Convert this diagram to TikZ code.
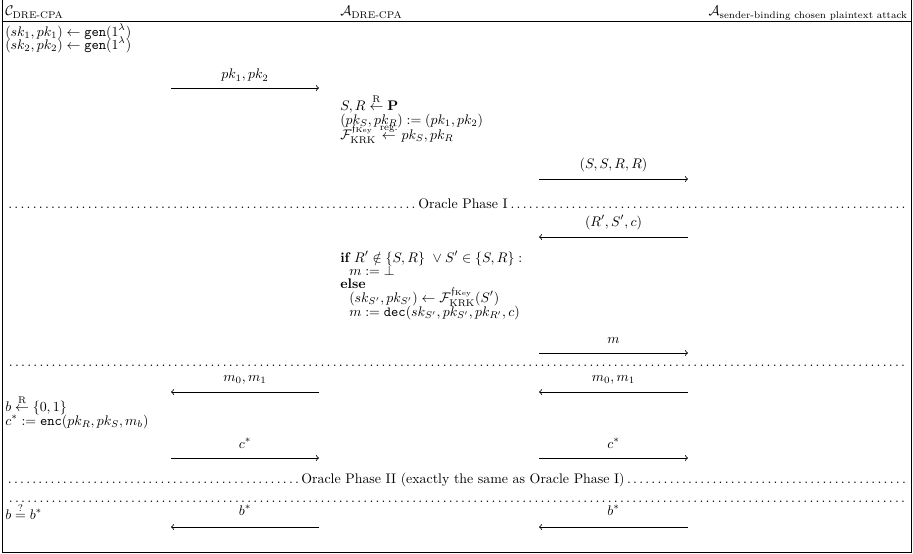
\documentclass[tikz,border=0pt]{standalone}
\usepackage{amsmath,amssymb}
\newcommand\mydfill[1]{\leavevmode\cleaders\hbox to .44em{\hss.\hss}\hskip 0pt plus #1fil\kern0pt}
\begin{document}
\begin{tikzpicture}[x=0.72pt,y=-0.72pt,
  txt/.style={inner sep=0pt,anchor=base west},
  txtr/.style={inner sep=0pt,anchor=base east},
  lbl/.style={inner sep=0pt,anchor=base},
  msg/.style={->,line width=0.6pt},
  rule/.style={line width=0.6pt}]
\useasboundingbox (0,0) rectangle (913,554);
% frame
\draw[rule] (2,-1) rectangle (911,552);
\draw[rule] (2,21) -- (911,21);
% headers
\node[txt] (hC) at (5,16) {$\mathcal{C}_{\text{DRE-CPA}}$};
\node[txt] (hA) at (340,16) {$\mathcal{A}_{\text{DRE-CPA}}$};
\node[txtr] (hB) at (908,16) {$\mathcal{A}_{\text{sender-binding chosen plaintext attack}}$};
% challenger key generation
\node[txt] (gen) at (5,36) {\vtop{\lineskiplimit=-\maxdimen\baselineskip=9.36pt
  \hbox{$(sk_1,pk_1)\leftarrow\texttt{gen}(1^\lambda)$}
  \hbox{$(sk_2,pk_2)\leftarrow\texttt{gen}(1^\lambda)$}}};
% msg 1
\coordinate (a1s) at (171,88); \coordinate (a1e) at (319,88);
\draw[msg] (a1s) -- (a1e);
\node[lbl] (l1) at (245,79) {$pk_1,pk_2$};
% adversary setup
\node[txt] (setup) at (340,110) {\vtop{\lineskiplimit=-\maxdimen\baselineskip=10.1pt
  \hbox{$S,R\stackrel{\mathrm{R}}{\leftarrow}\mathbf{P}$}
  \hbox{$(pk_S,pk_R):=(pk_1,pk_2)$}\baselineskip=10.8pt
  \hbox{$\mathcal{F}^{\mathfrak{f}_{\mathrm{Key}}}_{\mathrm{KRK}}\stackrel{\text{reg.}}{\leftarrow} pk_S,pk_R$}}};
% msg 2
\coordinate (a2s) at (539,179); \coordinate (a2e) at (688,179);
\draw[msg] (a2s) -- (a2e);
\node[lbl] (l2) at (613.5,168) {$(S,S,R,R)$};
% oracle phase I
\node[lbl] (ph1) at (457,208) {\hbox to 650pt{\mydfill{1.03}Oracle Phase I\mydfill{1}}};
% msg 3
\coordinate (a3s) at (688,237); \coordinate (a3e) at (539,237);
\draw[msg] (a3s) -- (a3e);
\node[lbl] (l3) at (613.5,226) {$(R',S',c)$};
% oracle
\node[txt] (oracle) at (340,262) {\vtop{\lineskiplimit=-\maxdimen\baselineskip=9.36pt
  \hbox{$\textbf{if}\ R'\notin\{S,R\}\ \vee S'\in\{S,R\}:$}
  \hbox{\hspace*{6.5pt}$m:=\bot$}
  \hbox{$\textbf{else}$}\baselineskip=10.1pt
  \hbox{\hspace*{6.5pt}$(sk_{S'},pk_{S'})\leftarrow\mathcal{F}^{\mathfrak{f}_{\mathrm{Key}}}_{\mathrm{KRK}}(S')$}
  \hbox{\hspace*{6.5pt}$m:=\texttt{dec}(sk_{S'},pk_{S'},pk_{R'},c)$}}};
% msg 4
\coordinate (a4s) at (539,353); \coordinate (a4e) at (688,353);
\draw[msg] (a4s) -- (a4e);
\node[lbl] (l4) at (613.5,343) {$m$};
% separator
\node[lbl] (sep1) at (457,366) {\hbox to 650pt{\mydfill{1}}};
% msg 5
\coordinate (a5s) at (319,392); \coordinate (a5e) at (171,392);
\draw[msg] (a5s) -- (a5e);
\node[lbl] (l5) at (245,381) {$m_0,m_1$};
\coordinate (a6s) at (688,392); \coordinate (a6e) at (539,392);
\draw[msg] (a6s) -- (a6e);
\node[lbl] (l6) at (613.5,381) {$m_0,m_1$};
% challenge
\node[txt] (chal) at (5,411) {\vtop{\lineskiplimit=-\maxdimen\baselineskip=10.1pt
  \hbox{$b\stackrel{\mathrm{R}}{\leftarrow}\{0,1\}$}
  \hbox{$c^*:=\texttt{enc}(pk_R,pk_S,m_b)$}}};
% msg 6
\coordinate (a7s) at (171,458); \coordinate (a7e) at (319,458);
\draw[msg] (a7s) -- (a7e);
\node[lbl] (l7) at (245,448) {$c^*$};
\coordinate (a8s) at (539,458); \coordinate (a8e) at (688,458);
\draw[msg] (a8s) -- (a8e);
\node[lbl] (l8) at (613.5,448) {$c^*$};
% oracle phase II
\node[lbl] (ph2) at (457,483) {\hbox to 650pt{\mydfill{1.042}Oracle Phase II (exactly the same as Oracle Phase I)\mydfill{1}}};
\node[lbl] (sep2) at (457,502) {\hbox to 650pt{\mydfill{1}}};
% guess
\node[txt] (gs) at (5,519) {$b\stackrel{?}{=}b^*$};
\coordinate (a9s) at (319,527); \coordinate (a9e) at (171,527);
\draw[msg] (a9s) -- (a9e);
\node[lbl] (l9) at (245,515) {$b^*$};
\coordinate (a10s) at (688,527); \coordinate (a10e) at (539,527);
\draw[msg] (a10s) -- (a10e);
\node[lbl] (l10) at (613.5,515) {$b^*$};
\end{tikzpicture}
\end{document}
